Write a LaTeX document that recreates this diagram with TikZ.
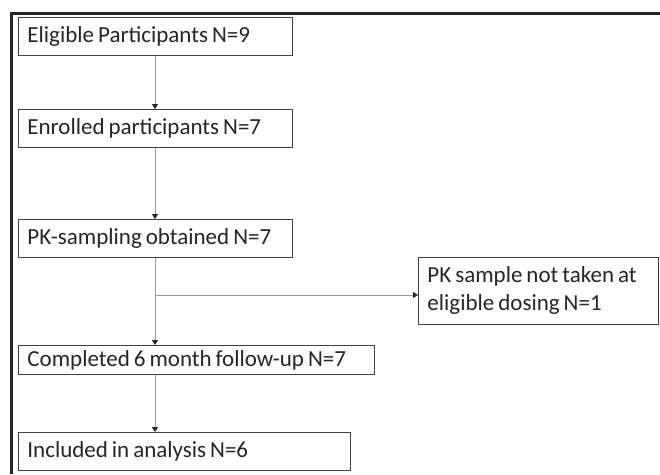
\documentclass[tikz,border=0pt]{standalone}
\usepackage{fontspec}
\setmainfont{Carlito}
\usetikzlibrary{arrows.meta}
\newcommand\myboxfont{\fontsize{23}{28}\selectfont\spaceskip=4pt\relax}
\newcommand\myline[2]{\makebox[#1][l]{\spaceskip=4pt\relax #2}}
\begin{document}
\begin{tikzpicture}[x=1pt,y=-1pt,
  box/.style={draw=black!75,line width=0.9pt,rectangle,anchor=north west,
    inner xsep=9pt,inner ysep=0pt,align=left,font=\myboxfont,
    text=black!85},
  flow/.style={draw=black!40,line width=1pt,
    -{Triangle[width=6pt,length=5pt,color=black!85]}}]
\useasboundingbox (0,0) rectangle (660,474);
\fill[white] (0,0) rectangle (660,474);
\draw[black!85,line width=2.2pt] (11.5,474) -- (11.5,13.5) -- (660,13.5);
\node[box,minimum height=38pt] (b1) at (18,17) {\myline{256pt}{Eligible Participants N=9}};
\node[box,minimum height=38pt] (b2) at (18,109) {\myline{256pt}{Enrolled participants N=7}};
\node[box,minimum height=38pt] (b3) at (18,219) {\myline{256pt}{PK-sampling obtained N=7}};
\node[box,minimum height=29pt] (b4) at (18,345) {\myline{338pt}{Completed 6 month follow-up N=7}};
\node[box,minimum height=38pt] (b5) at (18,432) {\myline{314pt}{Included in analysis N=6}};
\node[box,minimum height=67pt] (side) at (418,257) {\myline{222pt}{PK sample not taken at}\\\myline{222pt}{eligible dosing N=1}};
\coordinate (ax) at (155,0);
\coordinate (br) at (155,295);
\draw[flow] (b1.south -| ax) -- (b2.north -| ax);
\draw[flow] (b2.south -| ax) -- (b3.north -| ax);
\draw[flow] (b3.south -| ax) -- (b4.north -| ax);
\draw[flow] (b4.south -| ax) -- (b5.north -| ax);
\draw[flow] (br) -- (br -| side.west);
\end{tikzpicture}
\end{document}
